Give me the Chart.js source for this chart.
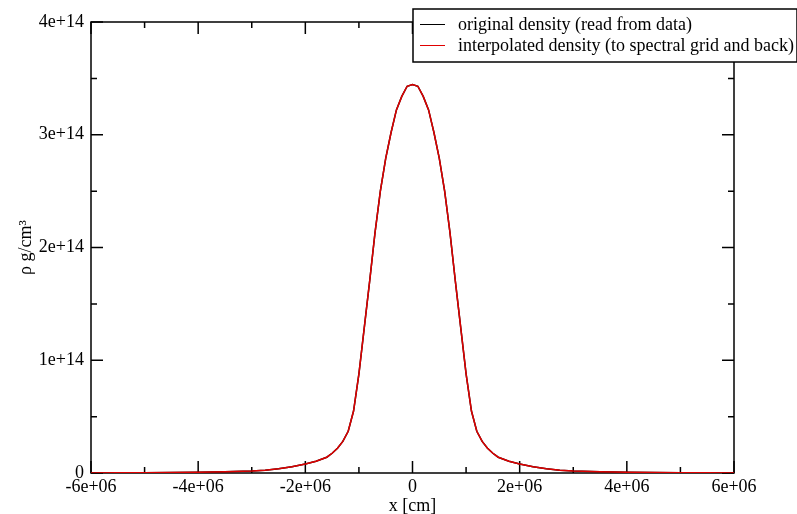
<!DOCTYPE html>
<html>
<head>
<meta charset="utf-8">
<script src="https://cdn.jsdelivr.net/npm/chart.js@4.4.0/dist/chart.umd.min.js"></script>
<style>
  html, body { margin: 0; padding: 0; background: #fff; }
  #wrap { width: 797px; height: 514px; position: relative; }
</style>
</head>
<body>
<div id="wrap"><canvas id="rho-chart" width="797" height="514"></canvas></div>
<script>
// x positions [cm]
const xCm = [
  -6.0e6, -5.5e6, -5.0e6, -4.5e6, -4.0e6, -3.5e6, -3.0e6, -2.75e6, -2.5e6, -2.25e6,
  -2.0e6, -1.8e6, -1.6e6, -1.5e6, -1.4e6, -1.3e6, -1.2e6, -1.1e6, -1.0e6, -0.9e6,
  -0.8e6, -0.7e6, -0.6e6, -0.5e6, -0.4e6, -0.3e6, -0.2e6, -0.1e6, 0,
  0.1e6, 0.2e6, 0.3e6, 0.4e6, 0.5e6, 0.6e6, 0.7e6, 0.8e6, 0.9e6, 1.0e6,
  1.1e6, 1.2e6, 1.3e6, 1.4e6, 1.5e6, 1.6e6, 1.8e6, 2.0e6, 2.25e6, 2.5e6,
  2.75e6, 3.0e6, 3.5e6, 4.0e6, 4.5e6, 5.0e6, 5.5e6, 6.0e6
];
// density read from data [g/cm^3]
const rhoOriginal = [
  0.001e14, 0.002e14, 0.003e14, 0.005e14, 0.007e14, 0.011e14, 0.017e14, 0.025e14, 0.037e14, 0.055e14,
  0.08e14, 0.105e14, 0.14e14, 0.175e14, 0.22e14, 0.28e14, 0.37e14, 0.55e14, 0.88e14, 1.29e14,
  1.70e14, 2.13e14, 2.50e14, 2.79e14, 3.02e14, 3.22e14, 3.34e14, 3.43e14, 3.445e14,
  3.43e14, 3.34e14, 3.22e14, 3.02e14, 2.79e14, 2.50e14, 2.13e14, 1.70e14, 1.29e14, 0.88e14,
  0.55e14, 0.37e14, 0.28e14, 0.22e14, 0.175e14, 0.14e14, 0.105e14, 0.08e14, 0.055e14, 0.037e14,
  0.025e14, 0.017e14, 0.011e14, 0.007e14, 0.005e14, 0.003e14, 0.002e14, 0.001e14
];
// density after spectral grid round trip (indistinguishable in the plot)
const rhoInterpolated = [
  0.001e14, 0.002e14, 0.003e14, 0.005e14, 0.007e14, 0.011e14, 0.017e14, 0.025e14, 0.037e14, 0.055e14,
  0.08e14, 0.105e14, 0.14e14, 0.175e14, 0.22e14, 0.28e14, 0.37e14, 0.55e14, 0.88e14, 1.29e14,
  1.70e14, 2.13e14, 2.50e14, 2.79e14, 3.02e14, 3.22e14, 3.34e14, 3.43e14, 3.445e14,
  3.43e14, 3.34e14, 3.22e14, 3.02e14, 2.79e14, 2.50e14, 2.13e14, 1.70e14, 1.29e14, 0.88e14,
  0.55e14, 0.37e14, 0.28e14, 0.22e14, 0.175e14, 0.14e14, 0.105e14, 0.08e14, 0.055e14, 0.037e14,
  0.025e14, 0.017e14, 0.011e14, 0.007e14, 0.005e14, 0.003e14, 0.002e14, 0.001e14
];
const seriesLabels = ['original density (read from data)', 'interpolated density (to spectral grid and back)'];
const seriesColors = ['#000000', '#e00000'];

const xMajor = [-6e6, -4e6, -2e6, 0, 2e6, 4e6, 6e6];
const xMinor = [-5e6, -3e6, -1e6, 1e6, 3e6, 5e6];
const yMajor = [0, 1e14, 2e14, 3e14, 4e14];
const yMinor = [0.5e14, 1.5e14, 2.5e14, 3.5e14];

const FONT = { family: '"Liberation Serif", "DejaVu Serif", serif', size: 18 };

// 4e+14, -6e+06 style labels
function fmtExp(v) {
  if (v === 0) return '0';
  const e = Math.floor(Math.log10(Math.abs(v)) + 1e-9);
  const m = Math.round(v / Math.pow(10, e) * 100) / 100;
  return `${m}e+${String(e).padStart(2, '0')}`;
}

// frame + inward ticks on all four sides
const framePlugin = {
  id: 'frame',
  beforeDatasetsDraw(chart) {
    const { ctx, chartArea: a, scales } = chart;
    ctx.save();
    ctx.strokeStyle = '#000';
    ctx.lineWidth = 1.5;
    ctx.strokeRect(a.left, a.top, a.right - a.left, a.bottom - a.top);
    const tick = (vals, len) => {
      vals.forEach(v => {
        const px = scales.x.getPixelForValue(v);
        ctx.beginPath();
        ctx.moveTo(px, a.bottom); ctx.lineTo(px, a.bottom - len);
        ctx.moveTo(px, a.top); ctx.lineTo(px, a.top + len);
        ctx.stroke();
      });
    };
    const tickY = (vals, len) => {
      vals.forEach(v => {
        const py = scales.y.getPixelForValue(v);
        ctx.beginPath();
        ctx.moveTo(a.left, py); ctx.lineTo(a.left + len, py);
        ctx.moveTo(a.right, py); ctx.lineTo(a.right - len, py);
        ctx.stroke();
      });
    };
    tick(xMajor, 12); tick(xMinor, 6);
    tickY(yMajor, 12); tickY(yMinor, 6);
    ctx.restore();
  },
  afterDraw(chart) {
    // boxed legend in the upper right corner
    const { ctx } = chart;
    ctx.save();
    ctx.fillStyle = '#fff';
    ctx.strokeStyle = '#000';
    ctx.lineWidth = 1.5;
    ctx.fillRect(413, 9, 384, 53);
    ctx.strokeRect(413, 9, 384, 53);
    ctx.font = `${FONT.size}px ${FONT.family}`;
    ctx.textBaseline = 'middle';
    chart.data.datasets.forEach((ds, i) => {
      const y = 24.5 + i * 21;
      ctx.strokeStyle = ds.borderColor;
      ctx.lineWidth = 1;
      ctx.beginPath(); ctx.moveTo(420, y); ctx.lineTo(445, y); ctx.stroke();
      ctx.fillStyle = '#000';
      ctx.fillText(ds.label, 458, y + 1);
    });
    ctx.restore();
  }
};

new Chart(document.getElementById('rho-chart'), {
  type: 'line',
  data: {
    datasets: [
      { label: seriesLabels[0], data: xCm.map((x, i) => ({ x, y: rhoOriginal[i] })),
        borderColor: seriesColors[0], borderWidth: 1.5, pointRadius: 0, order: 2 },
      { label: seriesLabels[1], data: xCm.map((x, i) => ({ x, y: rhoInterpolated[i] })),
        borderColor: seriesColors[1], borderWidth: 1.5, pointRadius: 0, order: 1 }
    ]
  },
  options: {
    responsive: false,
    animation: false,
    layout: { padding: { top: 22, right: 63, left: 0, bottom: 0 } },
    plugins: { legend: { display: false }, tooltip: { enabled: false } },
    scales: {
      x: {
        type: 'linear', min: -6e6, max: 6e6,
        grid: { display: false, drawTicks: false },
        border: { display: false },
        ticks: { stepSize: 2e6, color: '#000', font: FONT, padding: 3, maxRotation: 0,
                 callback: v => fmtExp(v) },
        title: { display: true, text: 'x [cm]', color: '#000', font: FONT, padding: { top: 0, bottom: -3 } },
        afterFit(s) { s.height = 41; }
      },
      y: {
        type: 'linear', min: 0, max: 4e14,
        grid: { display: false, drawTicks: false },
        border: { display: false },
        ticks: { stepSize: 1e14, color: '#000', font: FONT, padding: 7,
                 callback: v => fmtExp(v) },
        title: { display: true, text: 'ρ g/cm³', color: '#000', font: FONT, padding: { top: 15 } },
        afterFit(s) { s.width = 91; }
      }
    }
  },
  plugins: [framePlugin]
});
</script>
</body>
</html>
